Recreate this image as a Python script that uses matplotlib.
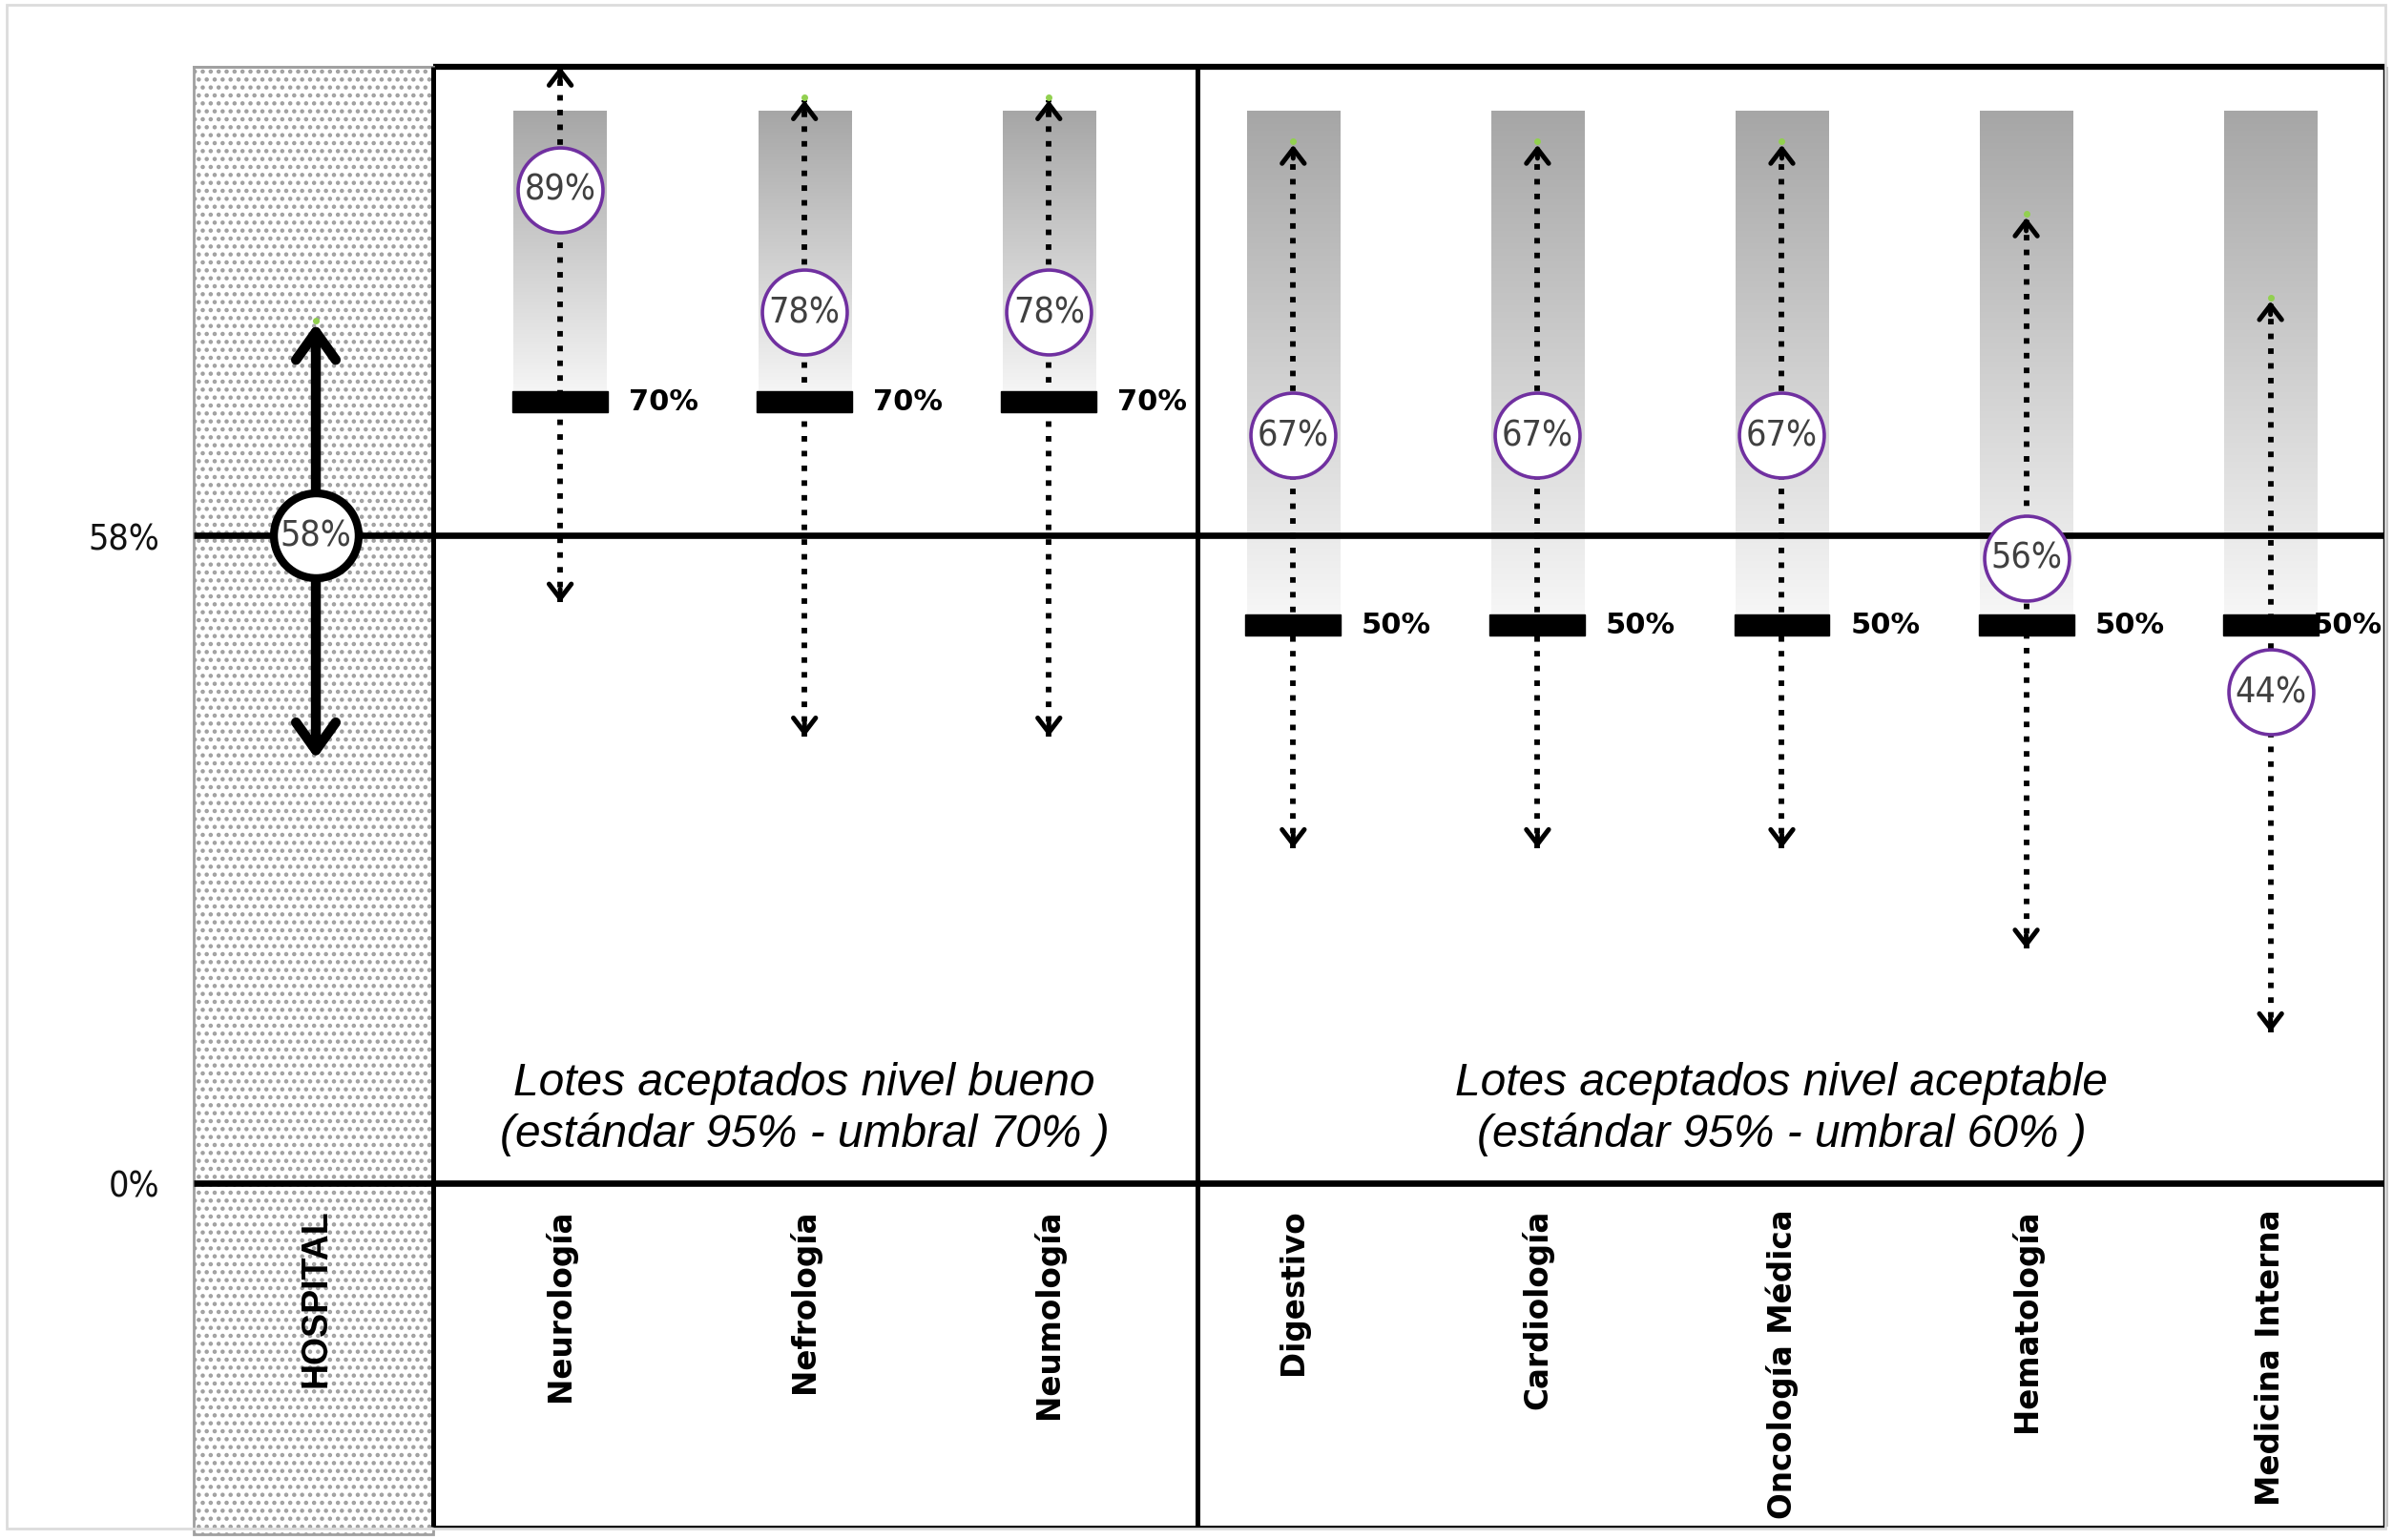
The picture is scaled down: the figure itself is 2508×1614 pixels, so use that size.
import numpy as np
import matplotlib
matplotlib.use('Agg')
import matplotlib.pyplot as plt
from matplotlib.patches import Rectangle
from matplotlib.colors import LinearSegmentedColormap
from matplotlib import font_manager

# --- data ---
services = ['HOSPITAL', 'Neurología', 'Nefrología', 'Neumología', 'Digestivo',
            'Cardiología', 'Oncología Médica', 'Hematología', 'Medicina Interna']
values = [58, 89, 78, 78, 67, 67, 67, 56, 44]
upper = [77, 100, 97, 97, 93, 93, 93, 86.5, 79]
lower = [38, 52, 40, 40, 30, 30, 30, 21, 13.5]
thresholds = [None, 70, 70, 70, 50, 50, 50, 50, 50]
standard_top = 96
group_titles = ['Lotes aceptados nivel bueno\n(estándar 95% - umbral 70% )',
                'Lotes aceptados nivel aceptable\n(estándar 95% - umbral 60% )']
group_centers = [2, 6]
ytick_vals = [0, 58]
ytick_labels = ['0%', '58%']

# a narrow face for the percentages if one is installed
fl = font_manager.fontManager.ttflist
names = {f.name for f in fl}
narrow = dict(family='Liberation Sans')
if 'Liberation Sans Narrow' in names:
    narrow = dict(family='Liberation Sans Narrow')
elif any(f.name == 'DejaVu Sans' and f.stretch == 'condensed' for f in fl):
    narrow = dict(family='DejaVu Sans', fontstretch='condensed')

W, H = 2508, 1615
fig = plt.figure(figsize=(W / 100, H / 100), dpi=100)
ax = fig.add_axes([203 / W, 1 - 1601 / H, (2500 - 203) / W, (1601 - 71) / H])
xmin, xmax = -0.5, 8.47
ybot = -30.8

# gray frame around the whole picture
fig.patches.append(Rectangle((7 / W, 1 - 1603 / H), 2493 / W, 1597 / H,
                             transform=fig.transFigure, fill=False,
                             edgecolor='#dcdcdc', lw=2))

# hospital column with dotted pattern
plt.rcParams['hatch.linewidth'] = 2.0
ax.add_patch(Rectangle((xmin, ybot - 0.7), 0.98, 100 - ybot + 0.7, facecolor='white',
                       edgecolor='#a0a0a0', hatch='..', lw=2, zorder=0, clip_on=False))

# gradient bars (threshold -> standard)
cmap = LinearSegmentedColormap.from_list('g', ['#a6a6a6', '#f8f8f8'])
grad = np.linspace(0, 1, 256).reshape(-1, 1)
bw = 0.19
for i in range(1, len(services)):
    ax.imshow(grad, extent=(i - bw, i + bw, thresholds[i], standard_top),
              cmap=cmap, vmin=0, vmax=1, aspect='auto', zorder=1)

# frame lines
k = dict(color='black', solid_capstyle='butt', clip_on=False, zorder=3)
ax.plot([0.48, xmax], [100, 100], lw=4.5, **k)
ax.plot([xmin, 0.48], [100, 100], lw=2, color='#a0a0a0', clip_on=False, zorder=3)
ax.plot([xmin, xmax], [58, 58], lw=4.8, **k)
ax.plot([xmin, xmax], [0, 0], lw=4.8, **k)
ax.plot([0.48, xmax], [ybot, ybot], lw=2.2, **k)
for xv in [0.48, 3.61]:
    ax.plot([xv, xv], [ybot, 100], lw=3.6, **k)
ax.plot([xmax, xmax], [ybot, 100], lw=3.2, **k)

# threshold markers and labels
for i in range(1, len(services)):
    t = thresholds[i]
    ax.add_patch(Rectangle((i - 0.195, t - 0.95), 0.39, 1.9, facecolor='black',
                           edgecolor='black', lw=1, zorder=4))
    off = min(0.28, xmax - i - 0.30)
    ax.text(i + off, t, f'{t}%', ha='left', va='center', fontsize=22,
            fontweight='bold', color='black', zorder=3.5)

# dotted interval arrows
for i in range(1, len(services)):
    ax.plot([i, i], [lower[i], upper[i]], color='black', lw=4.2, linestyle=':', zorder=5)
    for tip, base in [(upper[i], upper[i] - 1.2), (lower[i], lower[i] + 1.2)]:
        ax.annotate('', xy=(i, tip), xytext=(i, base),
                    arrowprops=dict(arrowstyle='->,head_length=0.55,head_width=0.42',
                                    lw=3.6, color='black', mutation_scale=20,
                                    shrinkA=0, shrinkB=0), zorder=5)
    ax.plot(i, upper[i] + 0.3, marker='o', ms=4, color='#92d050', zorder=5)

# hospital interval arrow
ax.annotate('', xy=(0, upper[0]), xytext=(0, lower[0]),
            arrowprops=dict(arrowstyle='<->,head_length=0.7,head_width=0.5',
                            lw=7.5, color='black', mutation_scale=30,
                            shrinkA=0, shrinkB=0), zorder=5)
ax.plot(0, upper[0] + 0.3, marker='o', ms=4, color='#92d050', zorder=5)

# value circles
for i, v in enumerate(values):
    ec, ew = ('black', 6) if i == 0 else ('#7030a0', 2.6)
    ax.plot(i, v, 'o', ms=64, mfc='white', mec=ec, mew=ew, zorder=6)
    ax.text(i, v, f'{v}%', ha='center', va='center', fontsize=27,
            color='#404040', zorder=7, **narrow)

# group titles
for xc, title in zip(group_centers, group_titles):
    ax.text(xc, 6.7, title, ha='center', va='center', fontsize=34.5, style='italic',
            family='Liberation Sans', linespacing=1.22, zorder=3)

# category labels
for i, name in enumerate(services):
    if i == 0:
        ax.text(i, -2.3, name, rotation=90, ha='center', va='top', fontsize=27,
                fontweight='bold', family='Liberation Sans')
    else:
        ax.text(i, -2.3, name, rotation=90, ha='center', va='top', fontsize=23.5,
                fontweight='bold')

ax.set_xlim(xmin, xmax)
ax.set_ylim(ybot, 100)
ax.set_xticks([])
ax.set_yticks(ytick_vals)
ax.set_yticklabels(ytick_labels, fontsize=27, color='#111111', **narrow)
ax.tick_params(axis='y', length=0, pad=26)
for s in ax.spines.values():
    s.set_visible(False)

fig.savefig('out.png', dpi=100)
